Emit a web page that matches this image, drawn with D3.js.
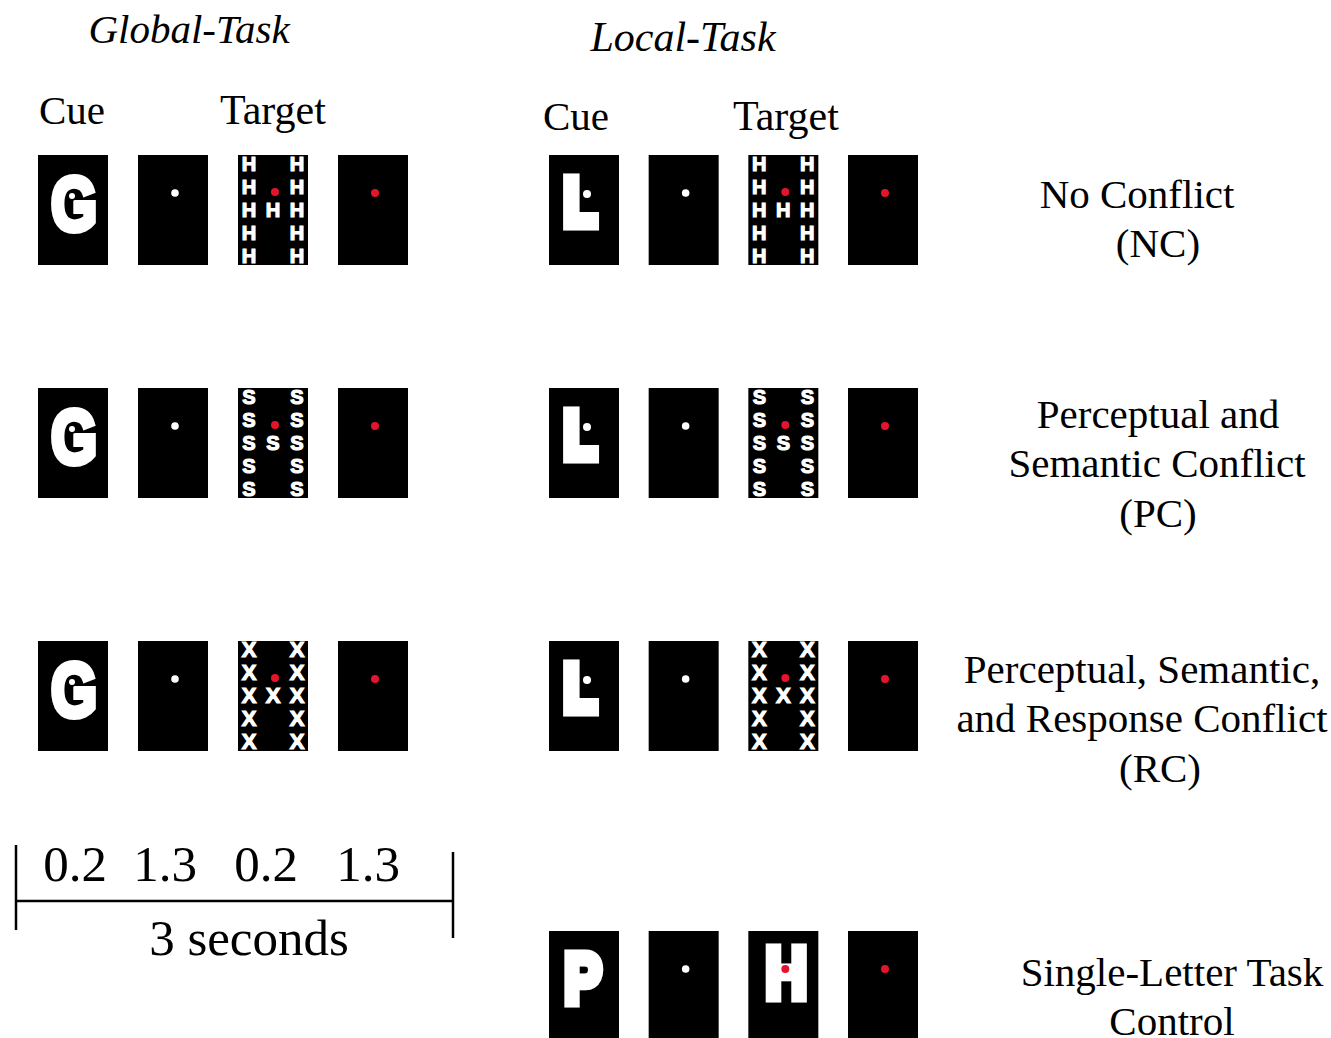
<!DOCTYPE html>
<html>
<head>
<meta charset="utf-8">
<script src="https://cdn.jsdelivr.net/npm/d3@7"></script>
<style>
  html, body { margin: 0; padding: 0; background: #fff; }
  svg { display: block; }
</style>
</head>
<body>
<svg id="chart" width="1331" height="1038"></svg>
<script>
// ---------------- data ----------------
const tasks = ["Global-Task", "Local-Task"];
const panelHeaders = ["Cue", "Target"];
const conditions = ["NC", "PC", "RC", "SL"];
const conditionLabels = [
  ["No Conflict", "(NC)"],
  ["Perceptual and", "Semantic Conflict", "(PC)"],
  ["Perceptual, Semantic,", "and Response Conflict", "(RC)"],
  ["Single-Letter Task", "Control"]
];
const globalCues = ["G", "G", "G", null];      // null = no global-task row
const localCues = ["L", "L", "L", "P"];
const targetLocalLetters = ["H", "S", "X", null]; // compound H made of these
const singleTargetLetter = "H";
const frames = ["cue", "fixation", "target", "blank"];
const durations = ["0.2", "1.3", "0.2", "1.3"];
const totalLabel = "3 seconds";
// compound global "H": [column, row] cells of local letters
const compoundCells = [
  [0,0],[0,1],[0,2],[0,3],[0,4],
  [1,2],
  [2,0],[2,1],[2,2],[2,3],[2,4]
];

// ---------------- layout ----------------
const svg = d3.select("#chart");
const serif = "'Liberation Serif', 'Times New Roman', serif";
const sans = "'Liberation Sans', Arial, sans-serif";
const RED = "#e3142c";
const PW = 70, PH = 110;

const colGlobal = d3.scaleLinear().domain([0, 3]).range([38, 338]);
const colLocal = d3.scaleLinear().domain([0, 3]).range([549, 848]);
const rowY = d3.scaleOrdinal().domain(conditions).range([155, 388, 641, 931]);
const cellX = d3.scalePoint().domain([0, 1, 2]).range([11, 59]);
const cellY = d3.scalePoint().domain([0, 1, 2, 3, 4]).range([8, 100]);

// headers
svg.append("text").attr("x", 189).attr("y", 43)
  .attr("text-anchor", "middle").attr("font-family", serif)
  .attr("font-style", "italic").attr("font-size", 41).text(tasks[0]);
svg.append("text").attr("x", 683).attr("y", 51)
  .attr("text-anchor", "middle").attr("font-family", serif)
  .attr("font-style", "italic").attr("font-size", 42).text(tasks[1]);

[[39, 220, 124], [543, 733, 130]].forEach(([cx, tx, by]) => {
  svg.append("text").attr("x", cx).attr("y", by).attr("font-family", serif)
    .attr("font-size", 41).text(panelHeaders[0]);
  svg.append("text").attr("x", tx).attr("y", by).attr("font-family", serif)
    .attr("font-size", 42).text(panelHeaders[1]);
});

function bigLetter(g, letter, x, y, size, sx, sw) {
  g.append("text")
    .attr("transform", `translate(${x},${y}) scale(${sx},1)`)
    .attr("text-anchor", "middle").attr("font-family", sans)
    .attr("font-weight", "bold").attr("font-size", size)
    .attr("fill", "#fff").attr("stroke", "#fff").attr("stroke-width", sw)
    .attr("stroke-linejoin", "miter").text(letter);
}

function drawPanel(g, frame, cueLetter, targetLetter, single) {
  g.append("rect").attr("width", PW).attr("height", PH).attr("fill", "#000");
  if (frame === "cue") {
    if (cueLetter === "G") {
      bigLetter(g, "G", 36, 75, 76, 0.78, 6);
      g.append("circle").attr("cx", 34).attr("cy", 41).attr("r", 5).attr("fill", "#000");
      g.append("circle").attr("cx", 34).attr("cy", 41).attr("r", 3).attr("fill", "#fff");
    } else if (cueLetter === "P") {
      bigLetter(g, "P", 34, 72, 70, 0.8, 9);
    } else {
      bigLetter(g, "L", 31, 70, 66, 0.8, 11);
      g.append("circle").attr("cx", 38).attr("cy", 39).attr("r", 4).attr("fill", "#fff");
    }
  } else if (frame === "fixation") {
    g.append("circle").attr("cx", 37).attr("cy", 38).attr("r", 3.8).attr("fill", "#fff");
  } else if (frame === "target") {
    if (single) {
      bigLetter(g, targetLetter, 38, 67, 72, 0.8, 9);
      g.append("circle").attr("cx", 37).attr("cy", 38).attr("r", 4).attr("fill", RED);
    } else {
      g.selectAll("text.cell").data(compoundCells).join("text")
        .attr("class", "cell")
        .attr("x", d => cellX(d[0])).attr("y", d => cellY(d[1]) + 7.5)
        .attr("text-anchor", "middle").attr("font-family", sans)
        .attr("font-weight", "bold").attr("font-size", targetLetter === "X" ? 22 : 20)
        .attr("fill", "#fff").attr("stroke", "#fff").attr("stroke-width", 1.2)
        .text(targetLetter);
      g.append("circle").attr("cx", 37).attr("cy", 37).attr("r", 4).attr("fill", RED);
    }
  } else {
    g.append("circle").attr("cx", 37).attr("cy", 38).attr("r", 4).attr("fill", RED);
  }
}

conditions.forEach((c, ci) => {
  const y = rowY(c);
  frames.forEach((f, fi) => {
    if (globalCues[ci]) {
      const g = svg.append("g").attr("transform", `translate(${colGlobal(fi)},${y})`);
      drawPanel(g, f, globalCues[ci], targetLocalLetters[ci], false);
    }
    const single = targetLocalLetters[ci] === null;
    const g2 = svg.append("g").attr("transform", `translate(${colLocal(fi)},${y})`);
    drawPanel(g2, f, localCues[ci], single ? singleTargetLetter : targetLocalLetters[ci], single);
  });
});

// condition labels
const labelLayout = [
  { xs: [1137, 1158], y0: 208 },
  { xs: [1158, 1157, 1158], y0: 428 },
  { xs: [1142, 1142, 1160], y0: 683 },
  { xs: [1172, 1172], y0: 986 }
];
conditionLabels.forEach((lines, i) => {
  lines.forEach((t, j) => {
    svg.append("text").attr("x", labelLayout[i].xs[j]).attr("y", labelLayout[i].y0 + j * 49.3)
      .attr("text-anchor", "middle").attr("font-family", serif)
      .attr("font-size", 41).attr("fill", "#000").text(t);
  });
});

// timeline
const tl = svg.append("g").attr("stroke", "#000").attr("stroke-width", 2.5);
tl.append("line").attr("x1", 16).attr("x2", 16).attr("y1", 845).attr("y2", 930);
tl.append("line").attr("x1", 453).attr("x2", 453).attr("y1", 852).attr("y2", 938);
tl.append("line").attr("x1", 16).attr("x2", 453).attr("y1", 901).attr("y2", 901);

const durShift = [2, -8, -7, -5];
svg.selectAll("text.dur").data(durations).join("text")
  .attr("class", "dur")
  .attr("x", (d, i) => colGlobal(i) + PW / 2 + durShift[i])
  .attr("y", 881).attr("text-anchor", "middle")
  .attr("font-family", serif).attr("font-size", 51).text(d => d);
svg.append("text").attr("x", 249).attr("y", 955).attr("text-anchor", "middle")
  .attr("font-family", serif).attr("font-size", 51).text(totalLabel);
</script>
</body>
</html>
